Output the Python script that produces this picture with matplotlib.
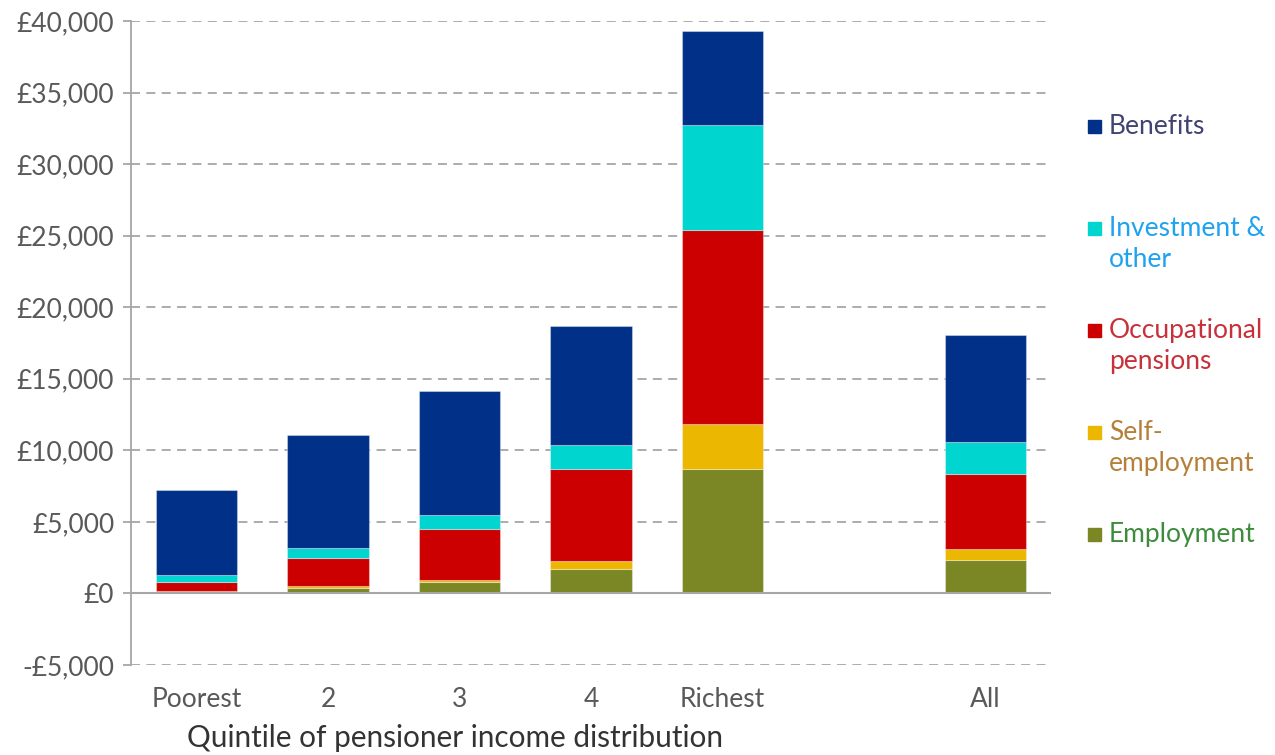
import matplotlib.pyplot as plt
import matplotlib.ticker as mticker
from matplotlib.patches import Rectangle
import numpy as np

plt.rcParams['font.family'] = ['Lato', 'DejaVu Sans']

# data (annual income, £)
groups = ['Poorest', '2', '3', '4', 'Richest', 'All']
employment = [100, 350, 790, 1720, 8680, 2330]
self_employment = [40, 140, 160, 580, 3190, 790]
occupational = [650, 1980, 3570, 6380, 13540, 5260]
investment = [470, 740, 990, 1670, 7330, 2180]
benefits = [6000, 7890, 8660, 8310, 6560, 7500]

series = [employment, self_employment, occupational, investment, benefits]
names = ['Employment', 'Self-\nemployment', 'Occupational\npensions', 'Investment &\nother', 'Benefits']
colors = ['#7a8724', '#ebb700', '#cc0000', '#00d5d0', '#003087']
text_colors = ['#3c8c3c', '#b5803a', '#c8303a', '#1fa2f0', '#3f4470']

fig = plt.figure(figsize=(12.75, 7.55), dpi=100)
ax = fig.add_axes([0.1027, 0.1192, 0.7216, 0.8530])

# leave an empty slot before "All"
x = np.array(list(range(len(groups) - 1)) + [len(groups)])
bottom = np.zeros(len(groups))
for vals, c in zip(series, colors):
    ax.bar(x, vals, width=0.62, bottom=bottom, color=c,
           edgecolor=(1, 1, 1, 0.35), linewidth=0.8, zorder=3)
    bottom += np.array(vals)

ax.set_xlim(-0.5, 6.5)
ax.set_ylim(-5000, 40000)
ax.set_yticks(np.arange(-5000, 40001, 5000))
ax.yaxis.set_major_formatter(mticker.FuncFormatter(
    lambda v, p: ('-£{:,.0f}'.format(-v) if v < 0 else '£{:,.0f}'.format(v))))
ax.set_xticks(x)
ax.set_xticklabels(groups)

for v in np.arange(-5000, 40001, 5000):
    if v != 0:
        ax.axhline(v, color='#a6a6a6', lw=1.3, ls=(0, (5, 3.5)), zorder=1)
ax.axhline(0, color='#a6a6a6', lw=1.5, zorder=4)

for s in ['top', 'right', 'bottom']:
    ax.spines[s].set_visible(False)
ax.spines['left'].set_color('#a6a6a6')
ax.spines['left'].set_linewidth(1.3)
ax.tick_params(axis='y', length=6, width=1.3, color='#a6a6a6', pad=6,
               labelsize=19, labelcolor='#595959')
ax.tick_params(axis='x', length=0, pad=16, labelsize=19, labelcolor='#595959')

fig.text(455 / 1275, 1 - 738 / 755, 'Quintile of pensioner income distribution',
         ha='center', va='center', fontsize=21.4, color='#333333')

# legend, top to bottom
for i, k in enumerate(range(len(series) - 1, -1, -1)):
    ytop = 126 + 102 * i
    fig.add_artist(Rectangle((1088 / 1275, 1 - (ytop + 7) / 755), 13 / 1275, 13 / 755,
                             transform=fig.transFigure, color=colors[k]))
    fig.text(1109 / 1275, 1 - (ytop - 12) / 755, names[k], ha='left', va='top',
             fontsize=19, color=text_colors[k], linespacing=1.32)

plt.savefig('out.png', dpi=100)
